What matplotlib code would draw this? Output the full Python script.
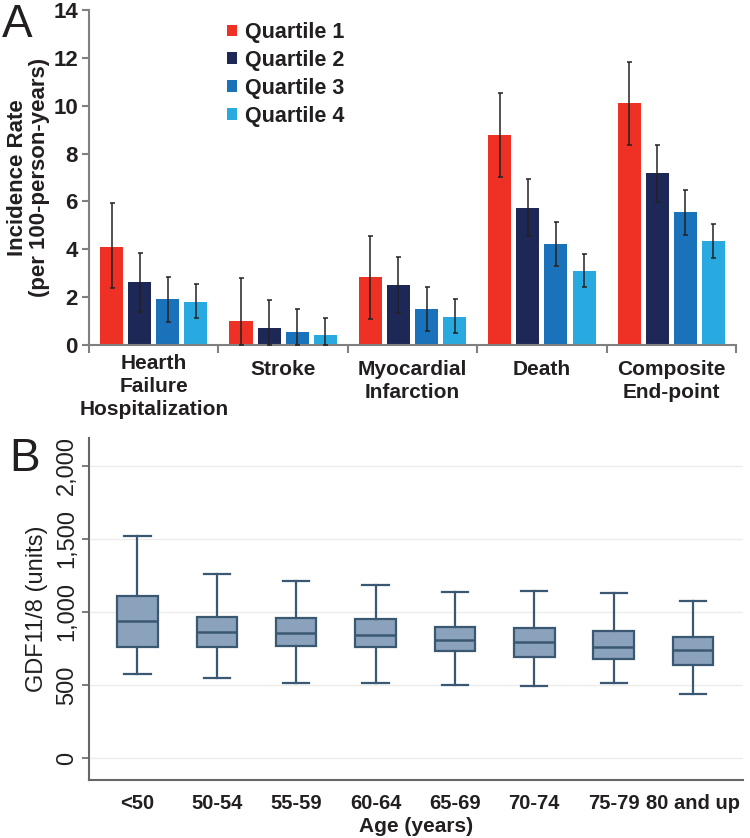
import matplotlib
matplotlib.use("Agg")
import matplotlib.pyplot as plt
import numpy as np

plt.rcParams['font.family'] = ['Liberation Sans', 'DejaVu Sans']

# ---- panel A data ----
categories = ["Hearth\nFailure\nHospitalization", "Stroke", "Myocardial\nInfarction",
              "Death", "Composite\nEnd-point"]
quartiles = ["Quartile 1", "Quartile 2", "Quartile 3", "Quartile 4"]
q_colors = ["#ee3124", "#1d2857", "#1a72bb", "#28aae1"]

rate = [[4.11, 1.02, 2.83, 8.78, 10.10],
        [2.65, 0.70, 2.51, 5.71, 7.17],
        [1.91, 0.56, 1.49, 4.22, 5.55],
        [1.81, 0.42, 1.18, 3.10, 4.35]]
ci_low = [[2.38, 0.00, 1.07, 7.03, 8.36],
          [1.39, 0.00, 1.35, 4.57, 5.99],
          [0.97, 0.00, 0.59, 3.31, 4.60],
          [1.11, 0.00, 0.51, 2.44, 3.62]]
ci_high = [[5.92, 2.79, 4.57, 10.52, 11.84],
           [3.84, 1.88, 3.69, 6.92, 8.36],
           [2.85, 1.49, 2.44, 5.15, 6.48],
           [2.55, 1.11, 1.92, 3.80, 5.04]]

# ---- panel B data ----
age_groups = ["<50", "50-54", "55-59", "60-64", "65-69", "70-74", "75-79", "80 and up"]
whis_lo = [577, 545, 511, 511, 502, 492, 513, 438]
box_q1 = [763, 757, 770, 763, 736, 693, 679, 638]
box_med = [937, 862, 859, 843, 805, 793, 757, 741]
box_q3 = [1112, 964, 958, 951, 896, 889, 869, 828]
whis_hi = [1520, 1263, 1215, 1186, 1135, 1144, 1133, 1076]

txt = '#231f20'
fig = plt.figure(figsize=(7.5, 8.38), dpi=100)

# ================= Panel A =================
axA = fig.add_axes([0.1187, 0.5883, 0.8627, 0.3997])
x = np.arange(len(categories))
w = 0.178
step = 0.217
for i in range(4):
    pos = x - 1.5 * step + i * step
    r = np.array(rate[i])
    yerr = [r - np.array(ci_low[i]), np.array(ci_high[i]) - r]
    axA.bar(pos, r, width=w, color=q_colors[i], label=quartiles[i], zorder=2)
    axA.errorbar(pos, r, yerr=yerr, fmt='none', ecolor='#222222', elinewidth=1.1,
                 capsize=1.8, capthick=1.1, zorder=3)

axA.set_xlim(-0.5, len(categories) - 0.5)
axA.set_ylim(0, 14)
axA.set_yticks(np.arange(0, 15, 2))
axA.set_xticks(np.arange(len(categories) + 1) - 0.5)
axA.set_xticklabels([])
for s in ['top', 'right']:
    axA.spines[s].set_visible(False)
for s in ['left', 'bottom']:
    axA.spines[s].set_color('#808080')
    axA.spines[s].set_linewidth(1.5)
axA.tick_params(axis='y', direction='out', length=5, width=1.5, color='#808080',
                labelsize=16, pad=3)
axA.tick_params(axis='x', direction='out', length=6, width=1.5, color='#808080')
for lab in axA.get_yticklabels():
    lab.set_fontweight('bold')
    lab.set_color(txt)

for k, name in enumerate(categories):
    top = -0.028 if name.count("\n") == 2 else -0.045
    axA.text(k, top, name, transform=axA.get_xaxis_transform(), ha='center', va='top',
             fontsize=15, fontweight='bold', color=txt, linespacing=1.27)

axA.set_ylabel("Incidence Rate\n(per 100-person-years)", fontsize=16, fontweight='bold',
               color=txt, linespacing=1.08, labelpad=2)

leg = axA.legend(loc='upper left', bbox_to_anchor=(0.2, 0.99), frameon=False,
                 handlelength=0.45, handleheight=0.45, handletextpad=0.4,
                 labelspacing=0.32, borderaxespad=0,
                 prop={'size': 15.5, 'weight': 'bold'})
for t in leg.get_texts():
    t.set_color(txt)

fig.text(0.003, 0.997, "A", fontsize=33, va='top', ha='left', color=txt)

# ================= Panel B =================
axB = fig.add_axes([0.1187, 0.0692, 0.872, 0.4081])
stats = []
for k, g in enumerate(age_groups):
    stats.append({'label': g, 'whislo': whis_lo[k], 'q1': box_q1[k], 'med': box_med[k],
                  'q3': box_q3[k], 'whishi': whis_hi[k], 'fliers': []})
edge = '#3b5873'
axB.bxp(stats, positions=np.arange(len(age_groups)), widths=0.51, patch_artist=True,
        showfliers=False,
        boxprops=dict(facecolor='#8aa2bc', edgecolor=edge, linewidth=1.6),
        medianprops=dict(color=edge, linewidth=1.8),
        whiskerprops=dict(color=edge, linewidth=1.6),
        capprops=dict(color=edge, linewidth=1.6),
        capwidths=0.33)

axB.set_xlim(-0.61, len(age_groups) - 0.37)
axB.set_ylim(-150, 2190)
axB.set_yticks([0, 500, 1000, 1500, 2000])
axB.set_yticklabels(["0", "500", "1,000", "1,500", "2,000"], rotation=90, va='center',
                    fontsize=17, color=txt)
axB.yaxis.grid(True, color='#ececec', linewidth=1.0)
axB.set_axisbelow(True)
for s in ['top', 'right']:
    axB.spines[s].set_visible(False)
for s in ['left', 'bottom']:
    axB.spines[s].set_color('#666666')
    axB.spines[s].set_linewidth(1.5)
axB.tick_params(axis='y', direction='out', length=5, width=1.2, color='#666666', pad=3)
axB.tick_params(axis='x', length=0, pad=10)
axB.set_xticks(np.arange(len(age_groups)))
axB.set_xticklabels(age_groups, fontsize=14.5, fontweight='bold', color=txt)
axB.set_xlabel("Age (years)", fontsize=15, fontweight='bold', color=txt, labelpad=3)
axB.set_ylabel("GDF11/8 (units)", fontsize=17, color=txt, labelpad=6)

fig.text(0.012, 0.478, "B", fontsize=33, va='top', ha='left', color=txt)

fig.savefig("out.png", dpi=100)
